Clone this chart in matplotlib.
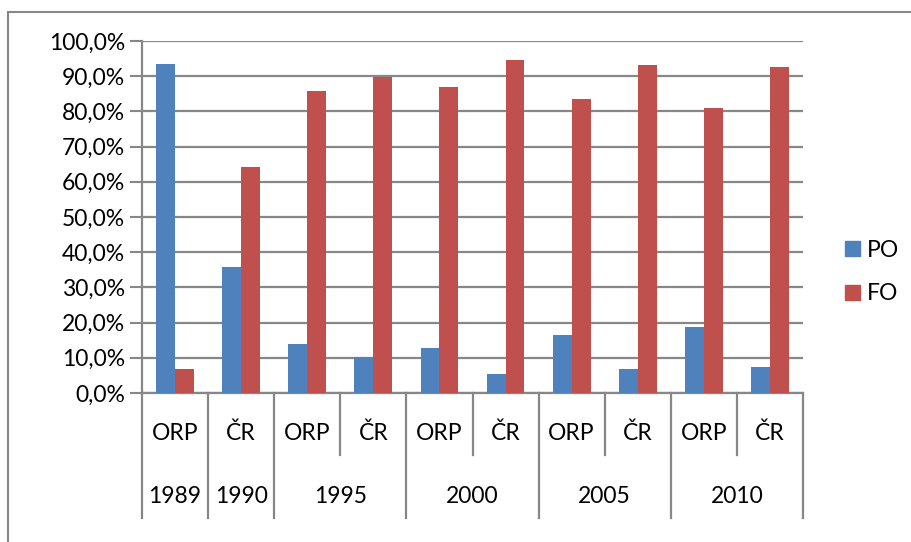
import numpy as np
import matplotlib
matplotlib.use("Agg")
import matplotlib.pyplot as plt
from matplotlib.patches import Rectangle, Patch
from matplotlib.ticker import FuncFormatter

plt.rcParams['font.family'] = ['Lato', 'DejaVu Sans']

# data
years = ["1989", "1990", "1995", "2000", "2005", "2010"]
groups = [["ORP"], ["ČR"], ["ORP", "ČR"], ["ORP", "ČR"], ["ORP", "ČR"], ["ORP", "ČR"]]
po = [93.5, 35.9, 13.9, 10.1, 12.8, 5.4, 16.5, 6.7, 18.8, 7.3]
fo = [6.7, 64.3, 85.9, 89.9, 87.0, 94.6, 83.4, 93.2, 80.9, 92.5]

blue = "#4F81BD"
red = "#C0504D"
grey = "#878787"
fs = 16.5

W, H = 911, 542
fig = plt.figure(figsize=(W / 100, H / 100), dpi=100)
fig.patches.append(Rectangle((8 / W, -0.1), 1.2, 1.1 - 12 / H, transform=fig.transFigure,
                             fill=False, edgecolor=grey, lw=1.5))

ax = fig.add_axes([142 / W, 1 - 393 / H, 661 / W, 352 / H])
n = len(po)
x = np.arange(n) + 0.5
bw = 0.286
ax.bar(x - bw / 2, po, bw, color=blue, zorder=3)
ax.bar(x + bw / 2, fo, bw, color=red, zorder=3)

ax.set_xlim(0, n)
ax.set_ylim(0, 100)
ax.set_yticks(np.arange(0, 101, 10))
ax.yaxis.set_major_formatter(FuncFormatter(lambda v, p: f"{v:.1f}".replace(".", ",") + "%"))
ax.tick_params(axis='y', length=9, width=1.5, color=grey, labelsize=fs, pad=3)
ax.set_xticks([])
ax.grid(axis='y', color=grey, lw=1.6, zorder=0)
for s in ["top", "right"]:
    ax.spines[s].set_visible(False)
for s in ["left", "bottom"]:
    ax.spines[s].set_color(grey)
    ax.spines[s].set_linewidth(1.6)

# multi-level category axis
tr = ax.get_xaxis_transform()
full, short = -0.355, -0.176
pos = 0
ax.plot([0, 0], [0, full], color=grey, lw=1.6, transform=tr, clip_on=False)
for yr, subs in zip(years, groups):
    start = pos
    for j, s in enumerate(subs):
        ax.text(pos + 0.5, -0.114, s, transform=tr, ha='center', va='center', fontsize=fs)
        pos += 1
        if j < len(subs) - 1:
            ax.plot([pos, pos], [0, short], color=grey, lw=1.6, transform=tr, clip_on=False)
    ax.plot([pos, pos], [0, full], color=grey, lw=1.6, transform=tr, clip_on=False)
    ax.text((start + pos) / 2, -0.295, yr, transform=tr, ha='center', va='center', fontsize=fs)

handles = [Patch(color=blue, label="PO"), Patch(color=red, label="FO")]
fig.legend(handles=handles, loc='center left', bbox_to_anchor=(845 / W, 1 - 272 / H),
           frameon=False, fontsize=fs, handlelength=0.65, handleheight=0.65,
           handletextpad=0.3, labelspacing=1.0, borderpad=0, borderaxespad=0)

fig.savefig("out.png", dpi=100)
